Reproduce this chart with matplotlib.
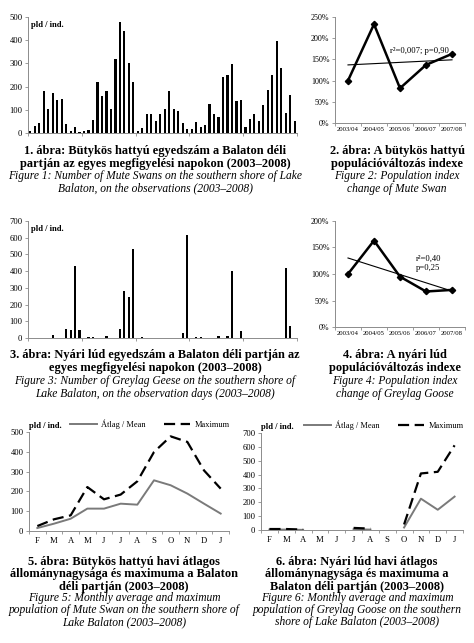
import numpy as np
import matplotlib
matplotlib.use("Agg")
from matplotlib import pyplot as plt

plt.rcParams['font.family'] = ['Liberation Serif', 'DejaVu Serif']

W, H = 474, 643

# --- data ---
swan_days = [10, 30, 45, 180, 105, 172, 143, 147, 37, 8, 27, 3,
             8, 15, 57, 220, 160, 182, 103, 320, 478, 440, 300, 220,
             8, 22, 82, 82, 53, 82, 105, 182, 105, 95, 44, 18,
             18, 47, 28, 33, 127, 80, 70, 240, 252, 297, 140, 143,
             28, 62, 82, 50, 120, 185, 248, 397, 280, 88, 162, 50]

goose_days = [0, 0, 0, 0, 0, 20, 0, 0, 55, 45, 432, 45,
              0, 4, 4, 0, 0, 12, 0, 0, 51, 281, 248, 530,
              0, 3, 0, 0, 0, 0, 0, 0, 0, 0, 27, 619,
              0, 3, 3, 0, 0, 0, 10, 0, 10, 399, 0, 41,
              0, 0, 0, 0, 0, 0, 0, 0, 0, 418, 69, 0]

seasons = ['2003/04', '2004/05', '2005/06', '2006/07', '2007/08']
swan_index = [100, 233, 82, 137, 163]
goose_index = [100, 163, 95, 67, 70]

months = ['F', 'M', 'A', 'M', 'J', 'J', 'A', 'S', 'O', 'N', 'D', 'J']
swan_mean = [15, 37, 62, 113, 113, 138, 133, 256, 231, 189, 138, 88]
swan_max = [25, 59, 79, 222, 160, 184, 251, 399, 478, 450, 306, 214]
goose_mean = [3, 3, 1, np.nan, np.nan, 5, 3, np.nan, 18, 226, 146, 241]
goose_max = [7, 7, 3, np.nan, np.nan, 15, 10, np.nan, 40, 408, 420, 611]

fig = plt.figure(figsize=(W / 100, H / 100), dpi=100)

AX_COL = '#8c8c8c'
TICK_FS = 6.2
CAP_FS = 8.9
IT_FS = 8.3


def ax_px(left, top, right, bottom):
    return fig.add_axes([left / W, 1 - bottom / H, (right - left) / W, (bottom - top) / H])


def style(ax, fs=TICK_FS):
    for s in ['top', 'right']:
        ax.spines[s].set_visible(False)
    for s in ['left', 'bottom']:
        ax.spines[s].set_color(AX_COL)
        ax.spines[s].set_linewidth(0.7)
    ax.tick_params(axis='both', colors=AX_COL, labelcolor='black', labelsize=fs,
                   length=2.5, width=0.6, pad=1.5)
    ax.patch.set_alpha(0)


def caption(x, y, bold_lines, it_lines, dy_b=12.3, dy_i=12):
    for i, t in enumerate(bold_lines):
        fig.text(x / W, 1 - (y + i * dy_b) / H, t, ha='center', va='center',
                 fontsize=CAP_FS, fontweight='bold')
    y2 = y + len(bold_lines) * dy_b - 0.5
    for i, t in enumerate(it_lines):
        fig.text(x / W, 1 - (y2 + i * dy_i) / H, t, ha='center', va='center',
                 fontsize=IT_FS, fontstyle='italic')


def bar_chart(ax, vals, ymax):
    n = len(vals)
    ax.bar(np.arange(n), vals, width=0.48, color='black')
    ax.set_xlim(-0.5, n - 0.5)
    ax.set_ylim(0, ymax)
    ax.set_yticks(np.arange(0, ymax + 1, 100))
    ax.set_xticks(np.arange(-0.5, n, 12))
    ax.set_xticklabels([])
    style(ax)
    ax.text(0.01, 0.93, 'pld / ind.', transform=ax.transAxes, fontsize=6.2,
            fontweight='bold', va='center')


def index_chart(ax, vals, ymax, txt, tx, ty):
    x = np.arange(len(vals))
    ax.plot(x, vals, color='black', lw=1.8, marker='D', ms=3.2, zorder=3)
    k, b = np.polyfit(x, vals, 1)
    ax.plot(x, k * x + b, color='black', lw=0.8, zorder=2)
    ax.set_xlim(-0.5, len(vals) - 0.5)
    ax.set_ylim(0, ymax)
    ax.set_yticks(np.arange(0, ymax + 1, 50))
    ax.set_yticklabels([f'{v}%' for v in range(0, ymax + 1, 50)])
    ax.set_xticks(x)
    ax.set_xticklabels(seasons)
    ax.set_xticks(np.arange(-0.5, len(vals), 1), minor=True)
    style(ax)
    ax.tick_params(axis='x', which='major', length=0, labelsize=4.8, pad=3)
    ax.tick_params(axis='x', which='minor', length=2.5, width=0.6, colors=AX_COL)
    ax.tick_params(axis='y', labelsize=5.8)
    ax.text(tx, ty, txt, fontsize=6.2, va='center', ha='left', linespacing=1.1)


def month_chart(ax, mean, mx, ymax):
    x = np.arange(len(months))
    l1, = ax.plot(x, mean, color='#7a7a7a', lw=1.4, label='Átlag / Mean')
    l2, = ax.plot(x, mx, color='black', lw=1.6, dashes=(5, 2.5), label='Maximum')
    ax.set_xlim(-0.5, len(months) - 0.5)
    ax.set_ylim(0, ymax)
    ax.set_yticks(np.arange(0, ymax + 1, 100))
    ax.set_xticks(x)
    ax.set_xticklabels(months)
    ax.set_xticks(np.arange(-0.5, len(months), 1), minor=True)
    style(ax)
    ax.tick_params(axis='x', which='major', length=0, labelsize=6.2, pad=4)
    ax.tick_params(axis='x', which='minor', length=2.5, width=0.6, colors=AX_COL)
    ax.legend(handles=[l1, l2], loc='lower right', bbox_to_anchor=(1.02, 1.0),
              ncol=2, frameon=False, fontsize=6, handlelength=3.2,
              columnspacing=2.2, handletextpad=0.5, borderaxespad=0)
    ax.text(0.0, 1.06, 'pld / ind.', transform=ax.transAxes, fontsize=6.2,
            fontweight='bold', va='center')


# 1. swan daily counts
ax1 = ax_px(28, 17, 297, 133)
bar_chart(ax1, swan_days, 500)
caption(155, 151, ['1. ábra: Bütykös hattyú egyedszám a Balaton déli',
                   'partján az egyes megfigyelési napokon (2003–2008)'],
        ['Figure 1: Number of Mute Swans on the southern shore of Lake',
         'Balaton, on the observations (2003–2008)'], dy_b=12.8, dy_i=12.5)

# 2. swan index
ax2 = ax_px(335, 17, 465, 123)
index_chart(ax2, swan_index, 250, 'r²=0,007; p=0,90', 1.62, 170)
caption(397, 151, ['2. ábra: A bütykös hattyú', 'populációváltozás indexe'],
        ['Figure 2: Population index', 'change of Mute Swan'], dy_b=12.8, dy_i=12.5)

# 3. goose daily counts
ax3 = ax_px(28, 221, 297, 338)
bar_chart(ax3, goose_days, 700)
caption(155, 355, ['3. ábra: Nyári lúd egyedszám a Balaton déli partján az',
                   'egyes megfigyelési napokon (2003–2008)'],
        ['Figure 3: Number of Greylag Geese on the southern shore of',
         'Lake Balaton, on the observation days (2003–2008)'], dy_b=13.2, dy_i=13.5)

# 4. goose index
ax4 = ax_px(335, 221, 465, 327)
index_chart(ax4, goose_index, 200, 'r²=0,40\np=0,25', 2.6, 120)
caption(395, 355, ['4. ábra: A nyári lúd', 'populációváltozás indexe'],
        ['Figure 4: Population index', 'change of Greylag Goose'], dy_b=13.2, dy_i=13.5)

# 5. swan monthly
ax5 = ax_px(29, 432, 229, 531)
month_chart(ax5, swan_mean, swan_max, 500)
caption(124, 562, ['5. ábra: Bütykös hattyú havi átlagos',
                   'állománynagysága és maximuma a Balaton',
                   'déli partján (2003–2008)'],
        ['Figure 5: Monthly average and maximum',
         'population of Mute Swan on the southern shore of',
         'Lake Balaton (2003–2008)'])

# 6. goose monthly
ax6 = ax_px(261, 433, 463, 530)
month_chart(ax6, goose_mean, goose_max, 700)
caption(357, 562, ['6. ábra: Nyári lúd havi átlagos',
                   'állománynagysága és maximuma a',
                   'Balaton déli partján (2003–2008)'],
        ['Figure 6: Monthly average and maximum',
         'population of Greylag Goose on the southern',
         'shore of Lake Balaton (2003–2008)'])

fig.savefig('out.png', dpi=100)
